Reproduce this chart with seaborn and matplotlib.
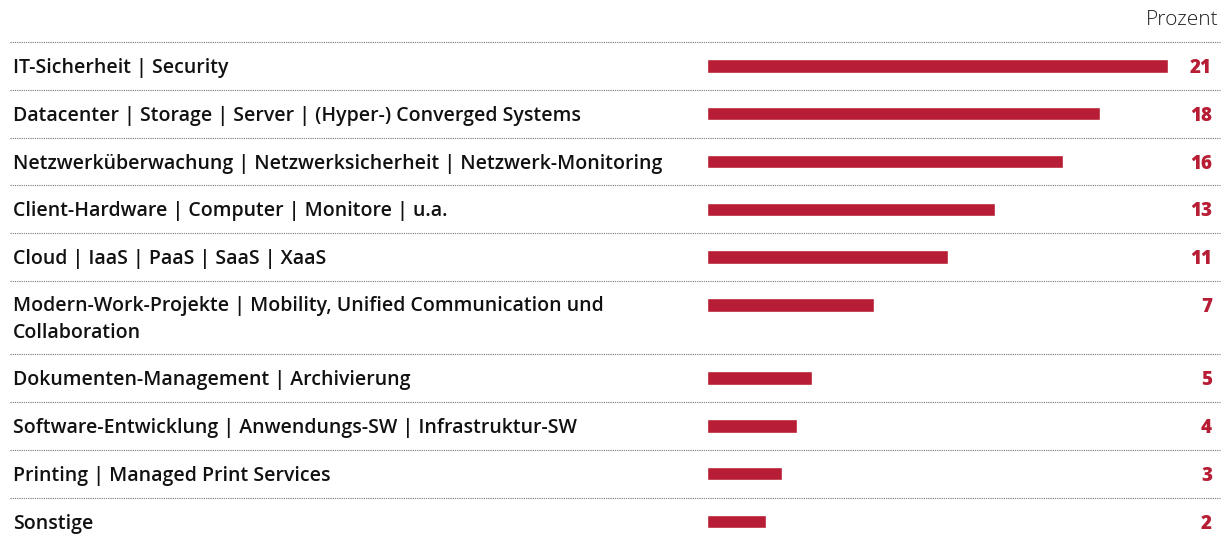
import matplotlib
matplotlib.use("Agg")
import matplotlib.pyplot as plt
import matplotlib.transforms as mtransforms
import numpy as np
import pandas as pd
import seaborn as sns

categories = [
    "IT-Sicherheit | Security",
    "Datacenter | Storage | Server | (Hyper-) Converged Systems",
    "Netzwerküberwachung | Netzwerksicherheit | Netzwerk-Monitoring",
    "Client-Hardware | Computer | Monitore | u.a.",
    "Cloud | IaaS | PaaS | SaaS | XaaS",
    "Modern-Work-Projekte | Mobility, Unified Communication und\nCollaboration",
    "Dokumenten-Management | Archivierung",
    "Software-Entwicklung | Anwendungs-SW | Infrastruktur-SW",
    "Printing | Managed Print Services",
    "Sonstige",
]
# bar lengths as drawn, labels as printed
bar_values = [21.0, 17.9, 16.2, 13.1, 11.0, 7.6, 4.8, 4.1, 3.4, 2.7]
value_labels = ["21", "18", "16", "13", "11", "7", "5", "4", "3", "2"]
unit_label = "Prozent"

RED = "#b71d34"
TXT = "#111111"

sns.set_theme(style="white")
plt.rcParams["font.family"] = ["Open Sans", "DejaVu Sans"]

# row heights: one unit per row, a bit more for wrapped labels
n_lines = np.array([c.count("\n") + 1 for c in categories])
row_h = 1 + 0.53 * (n_lines - 1)
row_top = np.concatenate([[0], np.cumsum(row_h)[:-1]])

df = pd.DataFrame({"cat": categories, "val": bar_values,
                   "pos": row_top + 0.5, "lab": value_labels,
                   "nl": n_lines})

fig = plt.figure(figsize=(12.27, 5.42), dpi=100)
W, H = 1227, 542
ax = fig.add_axes([10 / W, 0, 1210 / W, 500 / H])

sns.barplot(data=df, x="val", y="pos", orient="h", native_scale=True,
            color=RED, width=0.28, saturation=1, ax=ax)

px_per_unit = 21.95
ax.set_xlim(-(707 - 10) / px_per_unit, (1220 - 707) / px_per_unit)
ax.set_ylim(500 / 47.8, 0)
ax.axis("off")

trans = mtransforms.blended_transform_factory(ax.transAxes, ax.transData)

# dotted separators
for t in row_top:
    ax.plot([0, 1], [t, t], transform=trans, color="#777777",
            lw=0.8, ls=(0, (1, 1)), clip_on=False)

line_gap = 26 / 47.8
for _, r in df.iterrows():
    base = r["pos"] - 0.5 + 0.65
    # baseline of a multi-line text sits on its last line
    ax.text(0.0025, base + (r["nl"] - 1) * line_gap, r["cat"], transform=trans,
            ha="left", va="baseline", fontsize=14, fontweight="semibold",
            color=TXT, linespacing=1.45)
    ax.text(0.9934, base, r["lab"], transform=trans, ha="right", va="baseline",
            fontsize=13.5, fontweight="heavy", color=RED)

fig.text(1219 / W, 1 - 20 / H, unit_label, ha="right", va="center",
         fontsize=15, fontweight="light", color="#222222")

fig.savefig("out.png", dpi=100, facecolor="white")
